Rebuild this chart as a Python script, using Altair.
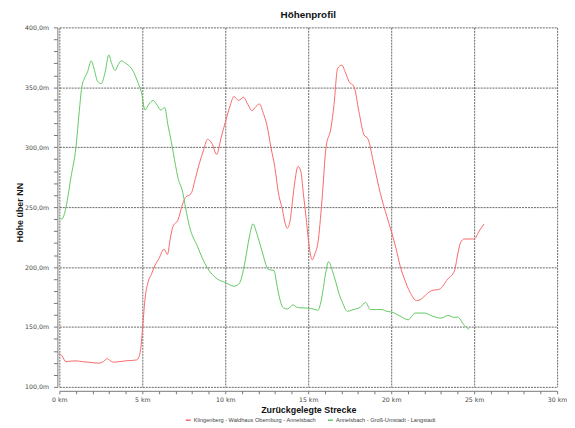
import altair as alt
import pandas as pd

# Route 1 (red): Klingenberg - Waldhaus Obernburg - Annelsbach
red_km = [0.0, 0.15, 0.4, 0.7, 1.0, 1.4, 1.79, 2.1, 2.38, 2.65, 2.88, 3.05, 3.27, 3.6, 3.97, 4.3, 4.66, 4.8, 4.93, 5.0,
          5.16, 5.36, 5.55, 5.75, 6.0, 6.31, 6.51, 6.7, 6.85, 7.14, 7.44, 7.6, 7.94, 8.2, 8.43, 8.7, 8.93, 9.2, 9.48, 9.75,
          10.02, 10.3, 10.52, 10.81, 11.1, 11.35, 11.61, 11.85, 12.06, 12.3, 12.5, 12.75, 12.99, 13.2, 13.45, 13.6, 13.73,
          13.9, 14.05, 14.2, 14.38, 14.55, 14.7, 14.88, 15.05, 15.24, 15.4, 15.58, 15.83, 16.07, 16.37, 16.55, 16.77,
          17.02, 17.25, 17.46, 17.76, 18.05, 18.35, 18.61, 18.95, 19.35, 19.74, 20.04, 20.3, 20.54, 20.8, 21.13, 21.53,
          21.82, 22.1, 22.42, 22.92, 23.41, 23.81, 24.0, 24.17, 24.4, 25.0, 25.3, 25.6]
red_m = [128, 126, 121, 121.5, 121.7, 121, 120.6, 120, 119.8, 121, 123.5, 122, 120.6, 121, 121.7, 122, 122.5, 125, 135, 146,
         173, 188, 194, 201, 207, 215, 210.5, 225, 234, 239, 253, 258, 261.3, 274, 286, 298, 306.6, 303, 294, 308,
         321.7, 335, 342.3, 339, 341.7, 336, 330.5, 334, 336, 328, 319, 300, 283, 262, 247.5, 237, 232.4,
         238, 255, 272, 284, 280, 262, 240, 218, 206, 211, 220, 256, 299.7, 316, 335, 365.7,
         368.4, 362, 354.7, 350.5, 330, 310.7, 306.6, 286, 261.3, 242, 228.3, 215, 200.8, 190, 179, 172,
         173.3, 177, 180.2, 181.6, 190, 196.7, 210, 220, 223.4, 223.4, 230, 236]

# Route 2 (green): Annelsbach - Groß-Umstadt - Langstadt
green_km = [0.0, 0.15, 0.4, 0.7, 1.0, 1.2, 1.35, 1.5, 1.7, 1.92, 2.1, 2.3, 2.52, 2.75, 2.98, 3.15, 3.37, 3.55, 3.73, 4.0,
            4.27, 4.5, 4.76, 4.96, 5.16, 5.4, 5.65, 5.9, 6.11, 6.35, 6.55, 6.74, 7.0, 7.14, 7.44, 7.6, 7.84, 8.33, 8.6,
            8.93, 9.2, 9.52, 10.02, 10.52, 10.75, 10.91, 11.1, 11.21, 11.45, 11.67, 11.9, 12.2, 12.6, 12.94, 13.1, 13.29,
            13.5, 13.75, 14.09, 14.3, 14.48, 14.98, 15.3, 15.58, 15.75, 15.87, 16.05, 16.23, 16.45, 16.67, 16.85, 17.06,
            17.36, 17.6, 17.86, 18.15, 18.45, 18.75, 19.1, 19.44, 19.75, 20.04, 20.54, 21.03, 21.25, 21.43, 22.02, 22.52,
            23.02, 23.41, 23.81, 24.0, 24.4, 24.7]
green_m = [241, 240, 250, 275, 300, 330, 350, 357, 363, 372, 365, 355, 353, 362, 377, 370, 364, 369, 372, 370,
           367, 362, 353, 345, 331, 336, 339, 335, 331, 333, 318, 305, 285, 275, 262, 250, 234, 217, 208,
           199, 194, 190, 187, 184, 185, 188, 198, 206, 225, 236, 228, 214, 198, 197, 186, 173,
           166, 165, 168.5, 166.5, 166, 165.7, 165, 164, 170, 179, 195, 204.5, 197, 187, 178, 170.5,
           163, 164, 165, 166.5, 170.5, 164.5, 164.5, 164.5, 163, 162.4, 159, 156, 159, 161.6, 161.6, 158.8,
           157.4, 159.6, 158, 158.3, 151.4, 147.8]

routes = ["Klingenberg - Waldhaus Obernburg - Annelsbach", "Annelsbach - Groß-Umstadt - Langstadt"]
colors = ["#f86868", "#62c862"]

df = pd.concat([
    pd.DataFrame({"km": red_km, "m": red_m, "route": routes[0], "order": range(len(red_km))}),
    pd.DataFrame({"km": green_km, "m": green_m, "route": routes[1], "order": range(len(green_km))}),
])

x_ticks = list(range(0, 31))
y_ticks = list(range(100, 401, 10))

chart = alt.Chart(df).mark_line(strokeWidth=1, interpolate="monotone").encode(
    x=alt.X("km:Q", scale=alt.Scale(domain=[0, 30], nice=False),
            axis=alt.Axis(values=x_ticks, title="Zurückgelegte Strecke",
                          labelExpr="datum.value % 5 === 0 ? datum.value + ' km' : ''",
                          labelOverlap=False, labelFlush=False,
                          gridOpacity={"condition": {"test": "datum.value % 5 === 0", "value": 1}, "value": 0},
                          offset=4, tickSize=3, labelPadding=3,
                          titleY=18.5, titleBaseline="middle",
                          titleFont="Liberation Sans", titleFontSize=9, titleFontWeight="bold")),
    y=alt.Y("m:Q", scale=alt.Scale(domain=[100, 400], nice=False),
            axis=alt.Axis(values=y_ticks, title="Höhe über NN",
                          labelExpr="datum.value % 50 === 0 ? datum.value + ',0m' : ''",
                          labelOverlap=False, labelFlush=False,
                          gridOpacity={"condition": {"test": "datum.value % 50 === 0", "value": 1}, "value": 0},
                          offset=2, tickSize=4, labelPadding=5,
                          titleX=-38, titleY=187, titleAngle=270, titleBaseline="middle", titleAlign="center",
                          titleFont="Liberation Sans", titleFontSize=9, titleFontWeight="bold")),
    color=alt.Color("route:N", scale=alt.Scale(domain=routes, range=colors),
                    legend=alt.Legend(title=None, orient="none", legendX=127, legendY=394,
                                      direction="horizontal", symbolType="stroke", symbolSize=25,
                                      symbolStrokeWidth=1.5, labelFont="Liberation Sans", labelFontSize=5.7,
                                      labelColor="#444", labelOffset=2, columnPadding=8)),
    order="order:Q",
).properties(
    width=504, height=364,
    title=alt.TitleParams("Höhenprofil", font="Liberation Sans", fontSize=10, fontWeight="bold",
                          anchor="middle", frame="group", offset=4, color="#111"),
    autosize=alt.AutoSizeParams(type="none"),
    padding={"left": 52, "top": 17, "right": 10, "bottom": 36},
).configure_view(stroke=None).configure_axis(
    gridColor="#666", gridDash=[2, 1], gridWidth=1,
    domainColor="#777", tickColor="#777",
    labelFont="DejaVu Sans", labelFontSize=6.3, labelColor="#444",
    titleColor="#111",
)

chart.save("out.html", embed_options={"renderer": "svg", "actions": False})
